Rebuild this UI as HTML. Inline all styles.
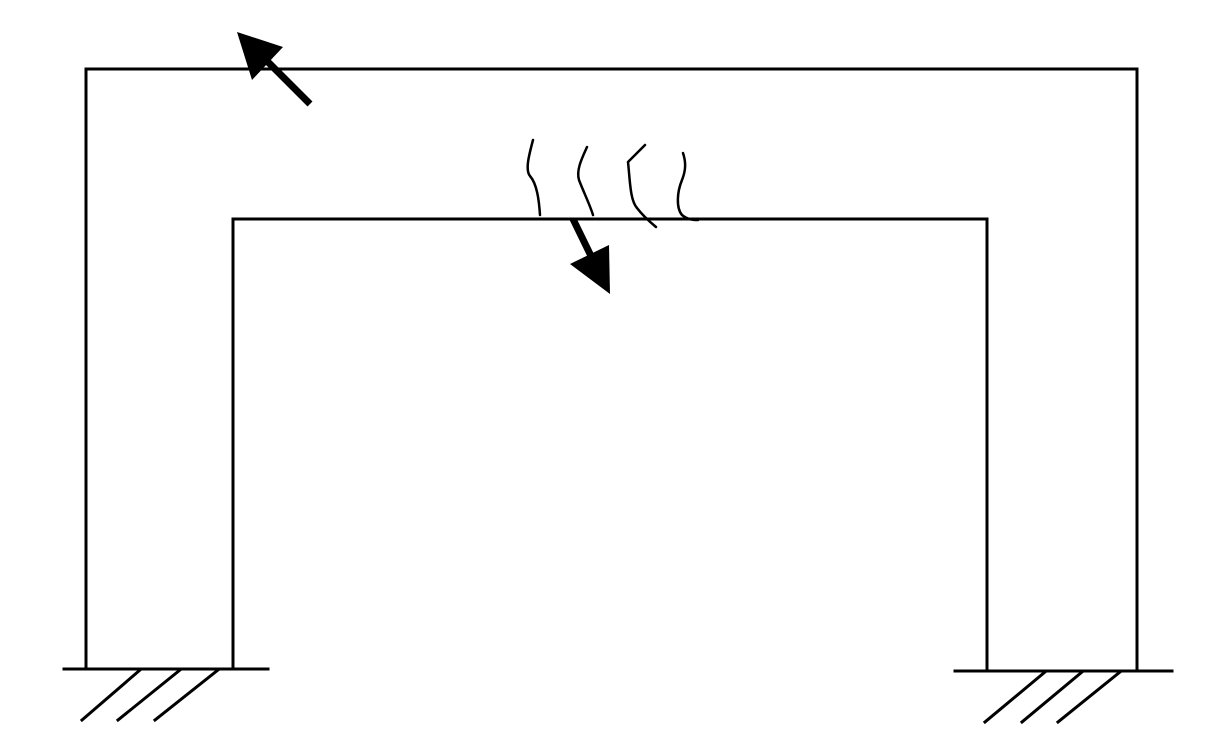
<!DOCTYPE html>
<html><head><style>html,body{margin:0;padding:0;background:#fff}svg{display:block}</style></head>
<body>
<svg width="1208" height="750" viewBox="0 0 1208 750" xmlns="http://www.w3.org/2000/svg">
<g fill="none" stroke="#000" stroke-width="3" stroke-linecap="square">
<polyline points="86,668 86,69 1137,69 1137,670"/>
<polyline points="233,669 233,219 987,219 987,670"/>
<line x1="64" y1="669" x2="268" y2="669"/>
<line x1="955" y1="671" x2="1172" y2="671"/>
<line x1="140" y1="670" x2="82" y2="720"/>
<line x1="180" y1="670" x2="118" y2="720"/>
<line x1="218" y1="670" x2="155" y2="720"/>
<line x1="1045" y1="672" x2="985" y2="722"/>
<line x1="1082" y1="672" x2="1022" y2="722"/>
<line x1="1120" y1="672" x2="1058" y2="722"/>
</g>
<g fill="none" stroke="#000" stroke-width="2.5" stroke-linejoin="round" stroke-linecap="round">
<path d="M533,140 C529,155 525,170 530,176 C537,184 539,200 540,215"/>
<path d="M587,147 C582,158 576,170 579,180 C584,193 590,205 593,215"/>
<path d="M645,145 L628,162 C630,180 630,200 637,208 C643,216 650,222 656,227"/>
<path d="M683,153 C686,162 686,170 682,180 C677,192 676,208 682,215 C688,220 694,220 698,220"/>
</g>
<line x1="310" y1="104" x2="268" y2="62" stroke="#000" stroke-width="7"/>
<polygon points="237,32 283,47 252,80" fill="#000"/>
<line x1="573" y1="219" x2="592" y2="258" stroke="#000" stroke-width="7"/>
<polygon points="610,294 570,264 609,245" fill="#000"/>
</svg>
</body></html>
